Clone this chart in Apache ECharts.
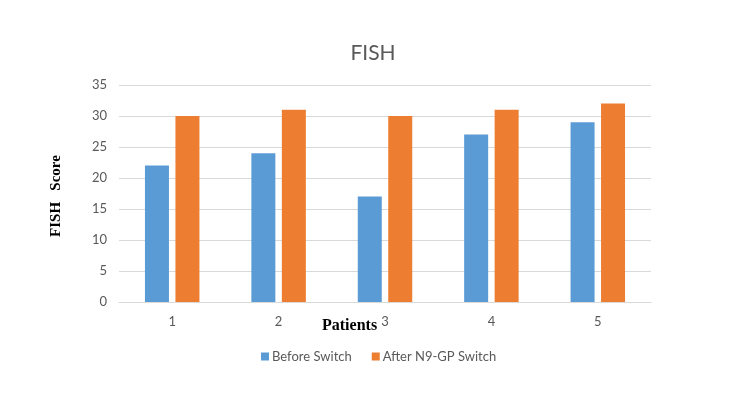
<!DOCTYPE html>
<html>
<head>
<meta charset="utf-8">
<script src="https://cdn.jsdelivr.net/npm/echarts@6/dist/echarts.min.js"></script>
<style>
html,body{margin:0;padding:0;background:#fff;}
#chart{width:750px;height:404px;}
</style>
</head>
<body>
<div id="chart"></div>
<script>
const categories = ['1', '2', '3', '4', '5'];
const beforeSwitch = [22, 24, 17, 27, 29];
const afterSwitch = [30, 31, 30, 31, 32];
const seriesNames = ['Before Switch', 'After N9-GP Switch'];
const yTicks = { min: 0, max: 35, interval: 5 };

const chart = echarts.init(document.getElementById('chart'));
const labelFont = 'Lato, "Open Sans", sans-serif';
chart.setOption({
  animation: false,
  backgroundColor: '#fff',
  title: {
    text: 'FISH',
    left: 368, top: 38,
    textAlign: 'center',
    textStyle: { fontFamily: labelFont, fontSize: 21, fontWeight: 'normal', color: '#595959' }
  },
  legend: {
    data: seriesNames,
    left: 256, top: 345,
    itemWidth: 8, itemHeight: 8, itemGap: 20,
    icon: 'rect',
    textStyle: { fontFamily: labelFont, fontSize: 13, color: '#595959', padding: [0, 0, 0, -2] }
  },
  grid: { left: 119, right: 99, top: 85, bottom: 102, containLabel: false },
  xAxis: {
    type: 'category',
    data: categories,
    axisLine: { lineStyle: { color: '#d9d9d9', width: 1 } },
    axisTick: { show: false },
    axisLabel: { color: '#595959', fontFamily: labelFont, fontSize: 13, margin: 13 }
  },
  yAxis: {
    type: 'value',
    min: yTicks.min, max: yTicks.max, interval: yTicks.interval,
    axisLine: { show: false },
    axisTick: { show: false },
    splitLine: { lineStyle: { color: '#d9d9d9', width: 1 } },
    axisLabel: { color: '#595959', fontFamily: labelFont, fontSize: 13, margin: 12 }
  },
  series: [
    { name: seriesNames[0], type: 'bar', data: beforeSwitch, barWidth: 24, barGap: '27%',
      itemStyle: { color: '#5b9bd5' } },
    { name: seriesNames[1], type: 'bar', data: afterSwitch, barWidth: 24, barGap: '27%',
      itemStyle: { color: '#ed7d31' } }
  ],
  graphic: [
    { type: 'text', left: 322, top: 318,
      style: { text: 'Patients', font: 'bold 16px "Liberation Serif", "Times New Roman", serif', fill: '#000' } },
    { type: 'text', x: 56, y: 196, rotation: Math.PI / 2,
      style: { text: 'FISH   Score', font: 'bold 15px "Liberation Serif", "Times New Roman", serif', fill: '#000',
               align: 'center', verticalAlign: 'middle' } }
  ]
});
</script>
</body>
</html>
